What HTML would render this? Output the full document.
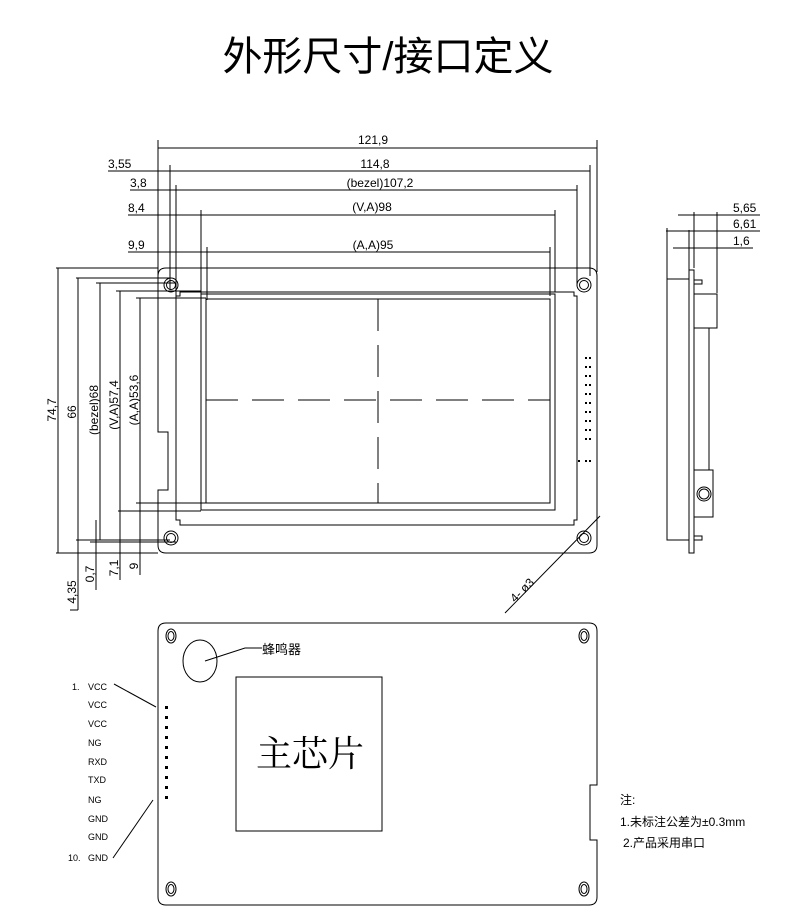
<!DOCTYPE html>
<html><head><meta charset="utf-8"><style>
html,body{margin:0;padding:0;background:#fff;}
svg{display:block;}
text{font-family:"Liberation Sans","Noto Sans CJK SC",sans-serif;fill:#000;}
</style></head><body>
<svg width="800" height="923" viewBox="0 0 800 923" xmlns="http://www.w3.org/2000/svg" stroke="#000" fill="none" stroke-width="1">
<text x="388" y="70" font-size="40" text-anchor="middle" stroke="none">外形尺寸/接口定义</text>

<g stroke-width="1">
<line x1="158" y1="148" x2="597" y2="148"/>
<line x1="108" y1="171" x2="590" y2="171"/>
<line x1="130" y1="190" x2="577" y2="190"/>
<line x1="128" y1="215" x2="555" y2="215"/>
<line x1="128" y1="252" x2="550" y2="252"/>
<line x1="158" y1="140" x2="158" y2="285"/>
<line x1="170" y1="165" x2="170" y2="290"/>
<line x1="176" y1="185" x2="176" y2="300"/>
<line x1="201" y1="210" x2="201" y2="300"/>
<line x1="207" y1="247" x2="207" y2="300"/>
<line x1="597" y1="140" x2="597" y2="272"/>
<line x1="590" y1="165" x2="590" y2="276"/>
<line x1="577" y1="185" x2="577" y2="286"/>
<line x1="555" y1="210" x2="555" y2="292"/>
<line x1="550" y1="247" x2="550" y2="296"/>
</g>
<g font-size="12" stroke="none">
<text x="373" y="144" text-anchor="middle">121,9</text>
<text x="108" y="168">3,55</text>
<text x="375" y="168" text-anchor="middle">114,8</text>
<text x="130" y="187">3,8</text>
<text x="380" y="187" text-anchor="middle">(bezel)107,2</text>
<text x="128" y="212">8,4</text>
<text x="372" y="211" text-anchor="middle">(V,A)98</text>
<text x="128" y="249">9,9</text>
<text x="373" y="249" text-anchor="middle">(A,A)95</text>
</g>

<path d="M166 268 H589 Q597 268 597 276 V545 Q597 553 589 553 H166 Q158 553 158 545 V490 H168 V432 H158 V276 Q158 268 166 268 Z"/>
<path d="M180 292 H574 V296 H577 V520 H574 V525 H180 V520 H176 V296 H180 Z"/>
<rect x="201" y="294" width="354" height="216"/>
<rect x="206" y="299" width="344" height="204"/>
<line x1="378" y1="299" x2="378" y2="503" stroke-dasharray="32,14"/>
<line x1="206" y1="400" x2="550" y2="400" stroke-dasharray="32,14"/>
<g>
<circle cx="171" cy="285" r="7"/><circle cx="171" cy="285" r="4.5"/>
<circle cx="584" cy="285" r="7"/><circle cx="584" cy="285" r="4.5"/>
<circle cx="171" cy="538" r="7"/><circle cx="171" cy="538" r="4.5"/>
<circle cx="584" cy="538" r="7"/><circle cx="584" cy="538" r="4.5"/>
</g>
<g fill="#000" stroke="none">
<rect x="585" y="357" width="2" height="2"/><rect x="589" y="357" width="2" height="2"/>
<rect x="585" y="366" width="2" height="2"/><rect x="589" y="366" width="2" height="2"/>
<rect x="585" y="375" width="2" height="2"/><rect x="589" y="375" width="2" height="2"/>
<rect x="585" y="384" width="2" height="2"/><rect x="589" y="384" width="2" height="2"/>
<rect x="585" y="393" width="2" height="2"/><rect x="589" y="393" width="2" height="2"/>
<rect x="585" y="402" width="2" height="2"/><rect x="589" y="402" width="2" height="2"/>
<rect x="585" y="411" width="2" height="2"/><rect x="589" y="411" width="2" height="2"/>
<rect x="585" y="420" width="2" height="2"/><rect x="589" y="420" width="2" height="2"/>
<rect x="585" y="429" width="2" height="2"/><rect x="589" y="429" width="2" height="2"/>
<rect x="585" y="438" width="2" height="2"/><rect x="589" y="438" width="2" height="2"/>
<rect x="578" y="460" width="2" height="2"/><rect x="585" y="460" width="2" height="2"/><rect x="589" y="460" width="2" height="2"/>
</g>

<line x1="56" y1="268" x2="158" y2="268"/>
<line x1="56" y1="553" x2="158" y2="553"/>
<line x1="58" y1="268" x2="58" y2="553"/>
<line x1="76" y1="278" x2="170" y2="278"/>
<line x1="78" y1="278" x2="78" y2="610"/>
<line x1="96" y1="283" x2="176" y2="283"/>
<line x1="100" y1="283" x2="100" y2="540"/>
<line x1="116" y1="291" x2="201" y2="291"/>
<line x1="120" y1="291" x2="120" y2="580"/>
<line x1="136" y1="298" x2="206" y2="298"/>
<line x1="140" y1="298" x2="140" y2="575"/>
<line x1="76" y1="540" x2="170" y2="540"/>
<line x1="90" y1="542" x2="176" y2="542"/>
<line x1="96" y1="520" x2="96" y2="590"/>
<line x1="118" y1="511" x2="201" y2="511"/>
<line x1="136" y1="503" x2="206" y2="503"/>
<line x1="70" y1="610" x2="78" y2="610"/>
<g font-size="12" stroke="none">
<text transform="translate(56,410) rotate(-90)" text-anchor="middle">74,7</text>
<text transform="translate(76,412) rotate(-90)" text-anchor="middle">66</text>
<text transform="translate(98,410) rotate(-90)" text-anchor="middle">(bezel)68</text>
<text transform="translate(118,405) rotate(-90)" text-anchor="middle">(V,A)57,4</text>
<text transform="translate(138,400) rotate(-90)" text-anchor="middle">(A,A)53,6</text>
<text transform="translate(76,592) rotate(-90)" text-anchor="middle">4,35</text>
<text transform="translate(94,574) rotate(-90)" text-anchor="middle">0,7</text>
<text transform="translate(118,568) rotate(-90)" text-anchor="middle">7,1</text>
<text transform="translate(138,566) rotate(-90)" text-anchor="middle">9</text>
</g>
<line x1="600" y1="516" x2="505" y2="613"/>
<text transform="translate(515,603) rotate(-45)" font-size="12" stroke="none">4- ø3</text>

<rect x="667" y="279" width="22" height="261"/>
<rect x="689" y="270" width="5" height="283"/>
<path d="M694 280 H702 V284 H694 M694 536 H702 V540 H694"/>
<rect x="694" y="294" width="23" height="34"/>
<line x1="709" y1="328" x2="709" y2="470"/>
<rect x="694" y="470" width="19" height="47"/>
<circle cx="704" cy="494" r="7"/><circle cx="704" cy="494" r="5"/>
<line x1="678" y1="215" x2="760" y2="215"/>
<line x1="666" y1="231" x2="760" y2="231"/>
<line x1="673" y1="248" x2="753" y2="248"/>
<line x1="667" y1="228" x2="667" y2="279"/>
<line x1="689" y1="230" x2="689" y2="270"/>
<line x1="694" y1="212" x2="694" y2="268"/>
<line x1="717" y1="212" x2="717" y2="293"/>
<g font-size="12" stroke="none">
<text x="733" y="212">5,65</text>
<text x="733" y="228">6,61</text>
<text x="733" y="245">1,6</text>
</g>

<path d="M166 623 H589 Q597 623 597 631 V785 H590 V840 H597 V897 Q597 905 589 905 H166 Q158 905 158 897 V631 Q158 623 166 623 Z"/>
<g>
<ellipse cx="171" cy="636" rx="5" ry="7"/><ellipse cx="171" cy="636" rx="3" ry="4.5"/>
<ellipse cx="584" cy="636" rx="5" ry="7"/><ellipse cx="584" cy="636" rx="3" ry="4.5"/>
<ellipse cx="171" cy="889" rx="5" ry="7"/><ellipse cx="171" cy="889" rx="3" ry="4.5"/>
<ellipse cx="584" cy="889" rx="5" ry="7"/><ellipse cx="584" cy="889" rx="3" ry="4.5"/>
</g>
<ellipse cx="200" cy="661" rx="17" ry="21"/>
<polyline points="205,661 245,648 262,648"/>
<text x="262" y="654" font-size="13" stroke="none">蜂鸣器</text>
<rect x="236" y="677" width="146" height="154"/>
<text x="310" y="766" font-size="36" text-anchor="middle" stroke="none" style="font-family:'Noto Serif CJK SC',serif">主芯片</text>
<g fill="#000" stroke="none">
<rect x="165" y="706" width="3" height="3"/><rect x="165" y="716" width="3" height="3"/>
<rect x="165" y="726" width="3" height="3"/><rect x="165" y="736" width="3" height="3"/>
<rect x="165" y="746" width="3" height="3"/><rect x="165" y="756" width="3" height="3"/>
<rect x="165" y="766" width="3" height="3"/><rect x="165" y="776" width="3" height="3"/>
<rect x="165" y="786" width="3" height="3"/><rect x="165" y="796" width="3" height="3"/>
</g>
<line x1="114" y1="684" x2="156" y2="707"/>
<line x1="113" y1="858" x2="153" y2="800"/>
<g font-size="9" stroke="none" style="font-family:'Liberation Sans',sans-serif">
<text x="72" y="690">1.</text><text x="88" y="690">VCC</text>
<text x="88" y="708">VCC</text>
<text x="88" y="727">VCC</text>
<text x="88" y="746">NG</text>
<text x="88" y="765">RXD</text>
<text x="88" y="783">TXD</text>
<text x="88" y="803">NG</text>
<text x="88" y="822">GND</text>
<text x="88" y="840">GND</text>
<text x="68" y="861">10.</text><text x="88" y="861">GND</text>
</g>
<g font-size="12" stroke="none">
<text x="620" y="804">注:</text>
<text x="620" y="826">1.未标注公差为±0.3mm</text>
<text x="623" y="847">2.产品采用串口</text>
</g>
</svg>
</body></html>
